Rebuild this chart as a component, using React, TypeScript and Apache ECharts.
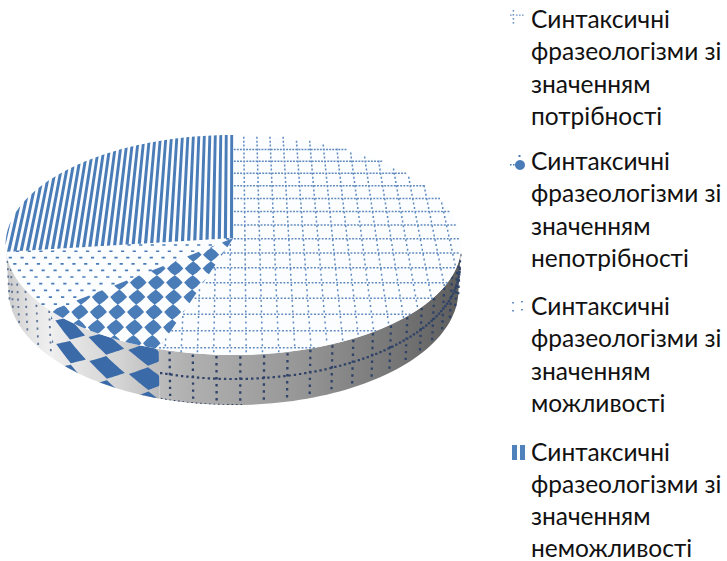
import React, { useEffect, useRef } from "react";
import * as echarts from "echarts";

// Share of each group of syntactic phraseologisms, clockwise from twelve o'clock.
const sliceNames = [
  "Синтаксичні фразеологізми зі значенням потрібності",
  "Синтаксичні фразеологізми зі значенням непотрібності",
  "Синтаксичні фразеологізми зі значенням можливості",
  "Синтаксичні фразеологізми зі значенням неможливості",
];
const sliceValues = [55, 9, 9, 27];
const legendLines = [
  ["Синтаксичні", "фразеологізми зі", "значенням", "потрібності"],
  ["Синтаксичні", "фразеологізми зі", "значенням", "непотрібності"],
  ["Синтаксичні", "фразеологізми зі", "значенням", "можливості"],
  ["Синтаксичні", "фразеологізми зі", "значенням", "неможливості"],
];

type Pt = [number, number];

const BLUE = "#4a7cb8";
const CX = 233.5;
const RX = 227.5;
const APEX_Y = 238;
const TILT = 0.0636;
const DEPTH_A = 109.6;

// Perspective projection of the unit disc onto the tilted top face.
const rimPoint = (deg: number): Pt => {
  const a = (deg * Math.PI) / 180;
  const u = Math.sin(a);
  const v = Math.cos(a);
  const d = 1 + TILT * v;
  return [CX + (RX * u) / d, APEX_Y - (DEPTH_A * v) / d];
};

// Pattern space on the top face, converging towards a far vanishing point.
const VANISH = 1000;
const patternPoint = (p: number, q: number): Pt => {
  const w = VANISH / (1 - q / VANISH);
  return [CX + (p * w) / VANISH, 245 - VANISH + w];
};

// The wall between the front half of the top rim and the bottom rim.
const wallPoint = (phi: number, f: number): Pt => {
  const tx = CX + RX * Math.sin(phi);
  const ty = 245 + 110 * Math.cos(phi);
  const bx = CX + 225 * Math.sin(phi);
  const by = 290 + 115 * Math.cos(phi);
  return [tx + (bx - tx) * f, ty + (by - ty) * f];
};
const phiFromX = (x: number) => Math.asin(Math.max(-1, Math.min(1, (x - CX) / RX)));

const polyPath = (pts: Pt[]) =>
  pts.length < 3
    ? ""
    : "M" + pts.map((p) => p[0].toFixed(2) + " " + p[1].toFixed(2)).join("L") + "Z";
const dotPath = (x: number, y: number, w: number, h: number) =>
  polyPath([
    [x - w / 2, y - h / 2],
    [x + w / 2, y - h / 2],
    [x + w / 2, y + h / 2],
    [x - w / 2, y + h / 2],
  ]);

const inside = (pt: Pt, poly: Pt[]) => {
  let hit = false;
  for (let i = 0, j = poly.length - 1; i < poly.length; j = i++) {
    const [xi, yi] = poly[i];
    const [xj, yj] = poly[j];
    if (yi > pt[1] !== yj > pt[1] && pt[0] < ((xj - xi) * (pt[1] - yi)) / (yj - yi) + xi) hit = !hit;
  }
  return hit;
};

// Sutherland-Hodgman clipping against a convex slice outline.
const clipConvex = (subject: Pt[], clip: Pt[]) => {
  let area = 0;
  for (let i = 0; i < clip.length; i++) {
    const a = clip[i];
    const b = clip[(i + 1) % clip.length];
    area += a[0] * b[1] - b[0] * a[1];
  }
  const sign = area > 0 ? 1 : -1;
  let out = subject;
  for (let i = 0; i < clip.length && out.length; i++) {
    const a = clip[i];
    const b = clip[(i + 1) % clip.length];
    const side = (p: Pt) => sign * ((b[0] - a[0]) * (p[1] - a[1]) - (b[1] - a[1]) * (p[0] - a[0]));
    const next: Pt[] = [];
    for (let j = 0; j < out.length; j++) {
      const c = out[j];
      const d = out[(j + 1) % out.length];
      const sc = side(c);
      const sd = side(d);
      if (sc >= 0) next.push(c);
      if (sc >= 0 !== sd >= 0) {
        const t = sc / (sc - sd);
        next.push([c[0] + (d[0] - c[0]) * t, c[1] + (d[1] - c[1]) * t]);
      }
    }
    out = next;
  }
  return out;
};

// Top-face patterns, one per slice.
const gridTop = (outline: Pt[]) => {
  let d = "";
  for (let k = -8; k <= 20; k++) {
    const q = 8 + 14.2 * k;
    for (let p = -240; p <= 240; p += 3.4) {
      const pt = patternPoint(p, q);
      if (inside(pt, outline)) d += dotPath(pt[0], pt[1], 1.9, 1.5);
    }
  }
  for (let k = -20; k <= 20; k++) {
    const p = 11.5 + 14.7 * k;
    for (let q = -120; q <= 130; q += 4.8) {
      const pt = patternPoint(p, q);
      if (inside(pt, outline)) d += dotPath(pt[0], pt[1], 1.5, 2);
    }
  }
  return d;
};

const diamondTop = (outline: Pt[]) => {
  let d = "";
  for (let r = -3; r <= 10; r++) {
    for (let c = -12; c <= 6; c++) {
      const p = -57 + 17.4 * c;
      const q = 62.8 - 13.3 * r;
      const shape: Pt[] = [
        patternPoint(p - 8, q),
        patternPoint(p - 4.2, q - 3.8),
        patternPoint(p, q - 6.8),
        patternPoint(p + 4.2, q - 3.8),
        patternPoint(p + 8, q),
        patternPoint(p + 4.2, q + 3.8),
        patternPoint(p, q + 6.8),
        patternPoint(p - 4.2, q + 3.8),
      ];
      d += polyPath(clipConvex(shape, outline));
    }
  }
  return d;
};

const dashTop = (outline: Pt[]) => {
  let d = "";
  for (let r = -6; r <= 20; r++) {
    const q = 6.2 * r;
    for (let c = -24; c <= 6; c++) {
      const p = 11.6 * c + (r % 2 ? 5.8 : 0);
      const pt = patternPoint(p, q);
      if (inside(pt, outline)) d += dotPath(pt[0], pt[1], 3.2, 1.7);
    }
  }
  return d;
};

const stripeTop = (outline: Pt[]) => {
  let d = "";
  for (let k = -42; k <= 0; k++) {
    const p = -2 + 6.15 * k;
    const quad: Pt[] = [
      patternPoint(p - 1.6, -125),
      patternPoint(p + 1.6, -125),
      patternPoint(p + 1.6, 40),
      patternPoint(p - 1.6, 40),
    ];
    d += polyPath(clipConvex(quad, outline));
  }
  return d;
};

// Wall patterns.
const gridWall = (from: number, to: number) => {
  let d = "";
  for (let k = -3; k <= 16; k++) {
    const phi = 0.03 + 0.105 * k;
    if (phi < from + 0.01 || phi > to) continue;
    for (let f = 0.05; f <= 1; f += 0.14) {
      const pt = wallPoint(phi, f);
      d += dotPath(pt[0], pt[1], 2.3, 2.4);
    }
  }
  for (let phi = from + 0.01; phi < to; phi += 0.024) {
    const pt = wallPoint(phi, 0.48);
    d += dotPath(pt[0], pt[1], 2.4, 2.2);
  }
  for (let phi = from + 0.01; phi < 0.05; phi += 0.02) {
    const pt = wallPoint(phi, 0.99);
    d += dotPath(pt[0], pt[1], 1.6, 0.9);
  }
  return d;
};

const diamondWall = (from: number, to: number) => {
  let d = "";
  for (let c = -2; c <= 3; c++) {
    const phi0 = -0.387 - 0.21 * c;
    for (const f0 of [0.15, 0.64, 1.13]) {
      const shape: Pt[] = [];
      for (let i = 0; i < 32; i++) {
        const t = (i / 32) * Math.PI * 2;
        const cs = Math.cos(t);
        const sn = Math.sin(t);
        const nrm = Math.abs(cs) + Math.abs(sn);
        const phi = phi0 + (0.095 * cs) / nrm;
        const f = f0 + (0.23 * sn) / nrm;
        shape.push(wallPoint(Math.max(from, Math.min(to, phi)), Math.max(0, Math.min(1, f))));
      }
      const phiIn = phi0 + 0.095 > from && phi0 - 0.095 < to;
      if (phiIn && f0 - 0.23 < 1) d += polyPath(shape);
    }
  }
  return d;
};

const dashWall = (from: number, to: number) => {
  let d = "";
  let col = 0;
  for (let phi = -1.47; phi < to; phi += 0.105, col++) {
    if (phi < from) continue;
    for (let f = col % 2 ? 0.05 : 0.13; f < 1; f += 0.16) {
      const pt = wallPoint(phi, f);
      d += dotPath(pt[0], pt[1], 1.8, 2.2);
    }
  }
  return d;
};

const wallShading = () =>
  new echarts.graphic.LinearGradient(
    5,
    0,
    462,
    0,
    [
      { offset: 0, color: "#c8c8c8" },
      { offset: 0.06, color: "#e6e6e6" },
      { offset: 0.1, color: "#efefef" },
      { offset: 0.19, color: "#dddddd" },
      { offset: 0.25, color: "#d4d4d4" },
      { offset: 0.34, color: "#bcbcbc" },
      { offset: 0.4, color: "#b0b0b0" },
      { offset: 0.5, color: "#a6a6a6" },
      { offset: 0.64, color: "#979797" },
      { offset: 0.86, color: "#757575" },
      { offset: 1, color: "#5c5c5c" },
    ],
    true
  );

const topPainters = [gridTop, diamondTop, dashTop, stripeTop];
const wallPainters = [gridWall, diamondWall, dashWall, null];
const topColors = ["#5f8abf", BLUE, BLUE, BLUE];
const wallColors = ["#2f4268", "#3a6aa8", "#5f7699", BLUE];

function renderSlice(params: any, api: any) {
  const i = params.dataIndex;
  const total = sliceValues.reduce((a, b) => a + b, 0);
  const before = sliceValues.slice(0, i).reduce((a, b) => a + b, 0);
  const startDeg = (before / total) * 360;
  const endDeg = ((before + api.value(0)) / total) * 360;

  const outline: Pt[] = [[CX, APEX_Y]];
  const steps = Math.max(8, Math.round((endDeg - startDeg) / 2));
  for (let s = 0; s <= steps; s++) outline.push(rimPoint(startDeg + ((endDeg - startDeg) * s) / steps));

  const children: any[] = [];

  // The wall only shows along the front half of the rim.
  const paintWall = wallPainters[i];
  if (paintWall && startDeg < 270 && endDeg > 90) {
    const left = endDeg > 270 ? -Math.PI / 2 : phiFromX(rimPoint(endDeg)[0]);
    const right = startDeg < 90 ? Math.PI / 2 : phiFromX(rimPoint(startDeg)[0]);
    const band: Pt[] = [];
    const n = 60;
    for (let s = 0; s <= n; s++) band.push(wallPoint(left + ((right - left) * s) / n, 0));
    for (let s = n; s >= 0; s--) band.push(wallPoint(left + ((right - left) * s) / n, 1));
    children.push({
      type: "path",
      z2: 1,
      shape: { pathData: polyPath(band) },
      style: { fill: wallShading() },
    });
    children.push({
      type: "path",
      z2: 2,
      shape: { pathData: paintWall(left, right) },
      style: { fill: wallColors[i] },
    });
  }

  children.push({
    type: "path",
    z2: 3,
    shape: { pathData: polyPath(outline) },
    style: { fill: "#fcfdfe" },
  });
  children.push({
    type: "path",
    z2: 4,
    shape: { pathData: topPainters[i](outline) },
    style: { fill: topColors[i] },
  });
  return { type: "group", children };
}

// Legend swatches, each a tiny sample of its slice's pattern.
const legendKeyDots = (spots: [number, number, number, number][], fill: string) =>
  spots.map(([x, y, w, h]) => ({ type: "rect", shape: { x, y, width: w, height: h }, style: { fill } }));

const keyGrid: [number, number, number, number][] = [
  [510, 14.5, 1.6, 1.2], [516, 14.5, 1.6, 1.2], [519, 14.5, 1.6, 1.2], [522, 14.5, 1.6, 1.2],
  [512.6, 10, 1.6, 1.6], [512.6, 14, 1.6, 1.6], [512.6, 18, 1.6, 1.6], [512.6, 22, 1.6, 1.6],
];
const keyDash: [number, number, number, number][] = [
  [512, 302, 2, 1.6], [521, 301, 2, 1.6], [512, 310, 2, 1.6], [521, 309, 2, 1.6],
];
const keyStripes: [number, number, number, number][] = [
  [512, 445, 5, 15], [520, 445, 5, 15],
];
const keyDiamondDots: [number, number, number, number][] = [
  [510, 164, 1.6, 1.4], [513, 164, 1.6, 1.4], [518.5, 155, 2, 2],
];

const firstLineCentres = [18.5, 160.5, 305.5, 451];
const LINE_STEP = 32.3;

export default function App() {
  const ref = useRef<HTMLDivElement>(null);
  useEffect(() => {
    const chart = echarts.init(ref.current!, null, { renderer: "svg" });
    chart.setOption({
      animation: false,
      backgroundColor: "#ffffff",
      series: [
        {
          type: "custom",
          coordinateSystem: "none",
          silent: true,
          renderItem: renderSlice,
          data: sliceValues.map((value, i) => ({ value, name: sliceNames[i] })),
        },
      ],
      graphic: [
        ...legendLines.flatMap((lines, i) =>
          lines.map((line, j) => ({
            type: "text",
            x: 531,
            y: firstLineCentres[i] + j * LINE_STEP,
            style: {
              text: line,
              font: '24.5px Lato, "Open Sans", sans-serif',
              verticalAlign: "middle",
              fill: "#111111",
            },
          }))
        ),
        ...legendKeyDots(keyGrid, "#6a93c6"),
        ...legendKeyDots(keyDash, "#6a93c6"),
        ...legendKeyDots(keyStripes, "#4f81bd"),
        ...legendKeyDots(keyDiamondDots, BLUE),
        { type: "circle", shape: { cx: 520, cy: 165, r: 5 }, style: { fill: BLUE } },
      ],
    });
    return () => chart.dispose();
  }, []);
  return <div ref={ref} style={{ position: "absolute", left: 0, top: 0, width: 727, height: 561 }} />;
}
